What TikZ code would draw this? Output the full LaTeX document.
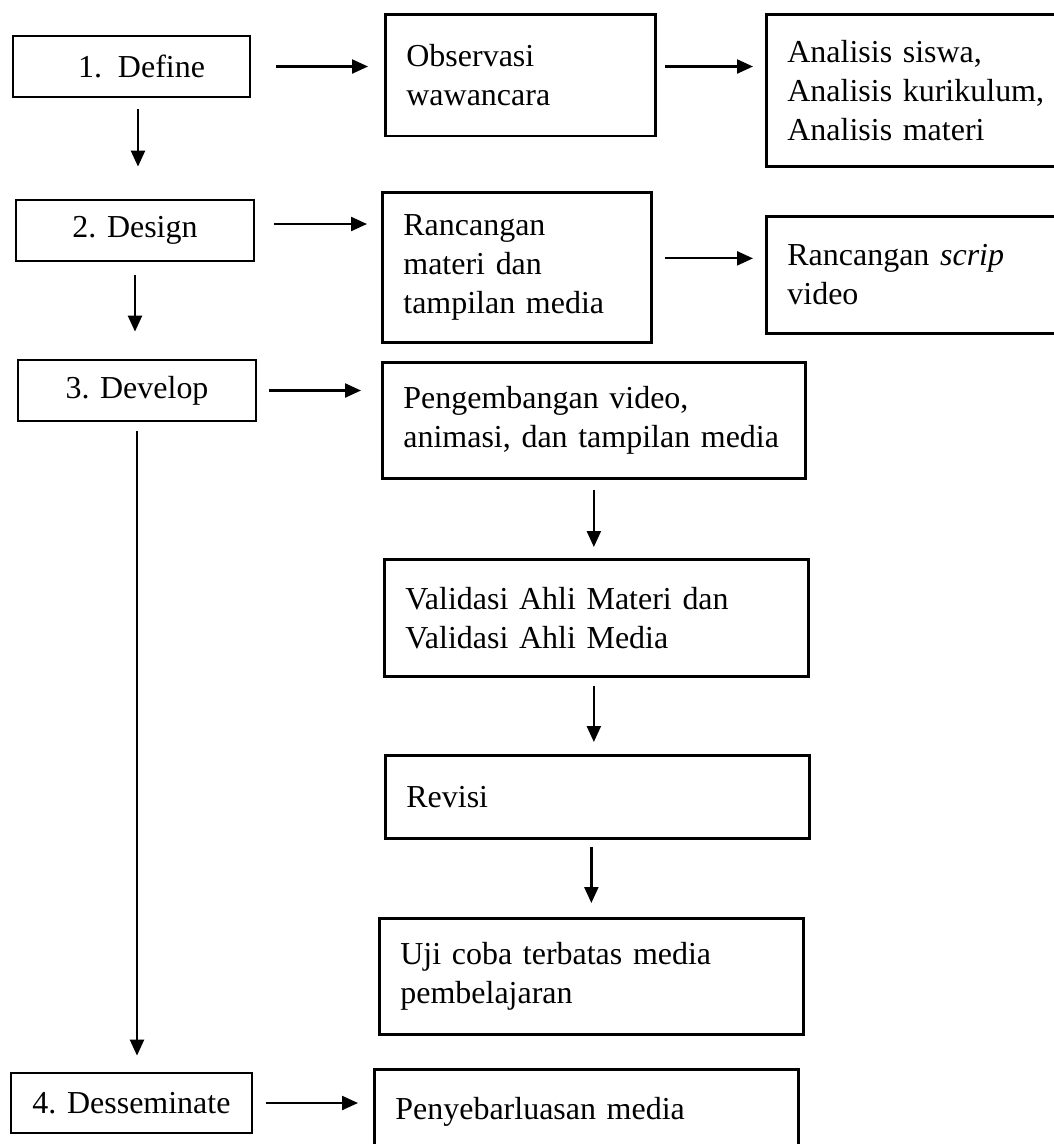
\documentclass[tikz,border=0pt]{standalone}
\usepackage{fontspec}
\setmainfont{Liberation Serif}
\usetikzlibrary{arrows.meta}
\newcommand{\boxfont}{\fontsize{18.2}{22.2}\selectfont}

\begin{document}
\begin{tikzpicture}[x=0.02cm, y=-0.02cm,
    stepbox/.style={draw, rectangle, line width=1.6pt, inner sep=0pt, font=\boxfont},
    infobox/.style={draw, rectangle, anchor=north west, line width=1.6pt, inner xsep=0.42cm, inner ysep=0pt, align=left, font=\boxfont},
    arr/.style={-{Triangle[length=0.32cm, width=0.28cm]}, line width=1.3pt}]
    \useasboundingbox (0,0) rectangle (1054,1144);
    \clip (0,0) rectangle (1054,1144);

    % Steps
    \node[stepbox, minimum width=4.74cm, minimum height=1.22cm] (define) at (131.5,66.5) {\hspace*{0.4cm}1.~~Define};
    \node[stepbox, minimum width=4.76cm, minimum height=1.22cm] (design) at (135,230.5) {2. Design};
    \node[stepbox, minimum width=4.76cm, minimum height=1.22cm] (develop) at (137,390.5) {3. Develop};
    \node[stepbox, minimum width=4.82cm, minimum height=1.2cm] (dissem) at (131.5,1103) {4. Desseminate};

    % Middle column
    \node[infobox, text width=4.56cm, minimum height=2.44cm] (obs) at (384,12.7) {Observasi\\wawancara};
    \node[infobox, text width=4.54cm, minimum height=3.01cm] (ranc) at (381,190.7) {Rancangan\\materi dan\\tampilan media};
    \node[infobox, text width=7.62cm, minimum height=2.32cm] (peng) at (381,361) {Pengembangan video,\\animasi, dan tampilan media};
    \node[infobox, text width=7.64cm, minimum height=2.34cm] (val) at (383,558) {Validasi Ahli Materi dan\\Validasi Ahli Media};
    \node[infobox, text width=7.64cm, minimum height=1.66cm] (rev) at (384,754) {Revisi};
    \node[infobox, text width=7.64cm, minimum height=2.32cm] (uji) at (378,917) {Uji coba terbatas media\\pembelajaran};
    \node[infobox, text width=7.64cm, minimum height=1.68cm] (peny) at (373,1068) {Penyebarluasan media};

    % Right column
    \node[infobox, text width=5.4cm, minimum height=3.05cm] (analisis) at (765,12.7) {Analisis siswa,\\Analisis kurikulum,\\Analisis materi};
    \node[infobox, text width=5.4cm, minimum height=2.34cm] (scrip) at (765,215) {Rancangan \textit{scrip}\\video};

    % Helper points
    \coordinate (def-out) at ([xshift=0.13cm]define.south);
    \coordinate (dsgn-out) at ([yshift=0.13cm]design.east);
    \coordinate (ranc-out) at ([yshift=0.18cm]ranc.east);

    % Arrows
    \draw[arr, shorten <=0.5cm, shorten >=0.32cm] (define.east) -- (define.east -| obs.west);
    \draw[arr, shorten <=0.16cm, shorten >=0.24cm] (obs.east |- define) -- (analisis.west |- define);
    \draw[arr, shorten <=0.38cm, shorten >=0.28cm] (dsgn-out) -- (dsgn-out -| ranc.west);
    \draw[arr, shorten <=0.24cm, shorten >=0.24cm] (ranc-out) -- (ranc-out -| scrip.west);
    \draw[arr, shorten <=0.24cm, shorten >=0.4cm] (develop.east) -- (develop.east -| peng.west);
    \draw[arr, shorten <=0.25cm, shorten >=0.3cm] (dissem.east) -- (dissem.east -| peny.west);

    \draw[arr, shorten <=0.22cm, shorten >=0.64cm] (def-out) -- (def-out |- design.north);
    \draw[arr, shorten <=0.26cm, shorten >=0.54cm] (design.south) -- (design.south |- develop.north);
    \draw[arr, shorten <=0.18cm, shorten >=0.32cm] (develop.south) -- (develop.south |- dissem.north);
    \draw[arr, shorten <=0.2cm, shorten >=0.22cm] (peng.south) -- (peng.south |- val.north);
    \draw[arr, shorten <=0.16cm, shorten >=0.24cm] (val.south -| peng.south) -- (rev.north -| peng.south);
    \draw[arr, shorten <=0.14cm, shorten >=0.28cm] (uji.north |- rev.south) -- (uji.north);

\end{tikzpicture}
\end{document}
